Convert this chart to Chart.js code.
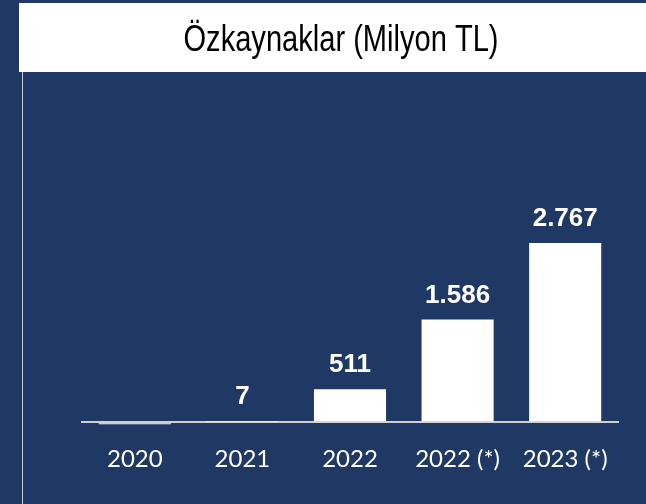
<!DOCTYPE html>
<html>
<head>
<meta charset="utf-8">
<script src="https://cdn.jsdelivr.net/npm/chart.js@4/dist/chart.umd.min.js"></script>
<style>
  html, body { margin: 0; padding: 0; background: #203864; }
  #wrap { width: 646px; height: 504px; position: relative; }
</style>
</head>
<body>
<div id="wrap"><canvas id="c" width="646" height="504"></canvas></div>
<script>
const chartTitle = 'Özkaynaklar (Milyon TL)';
const categories = ['2020', '2021', '2022', '2022 (*)', '2023 (*)'];
const values = [-30, 7, 511, 1586, 2767];

function fmtTR(v) {
  return String(Math.round(v)).replace(/\B(?=(\d{3})+(?!\d))/g, '.');
}

const decor = {
  id: 'decor',
  beforeDraw(chart) {
    const ctx = chart.ctx;
    ctx.save();
    ctx.fillStyle = '#203864';
    ctx.fillRect(0, 0, chart.width, chart.height);
    ctx.fillStyle = '#ffffff';
    ctx.fillRect(19, 3, chart.width - 19, 69);
    ctx.strokeStyle = '#c9cfdb';
    ctx.lineWidth = 1;
    ctx.beginPath();
    ctx.moveTo(22.5, 72);
    ctx.lineTo(22.5, chart.height);
    ctx.stroke();
    ctx.fillStyle = '#000000';
    ctx.font = '36px "Liberation Sans", Arial, sans-serif';
    ctx.textAlign = 'center';
    ctx.textBaseline = 'alphabetic';
    const w = ctx.measureText(chartTitle).width;
    const sx = 315 / w;
    ctx.translate(341, 51);
    ctx.scale(sx, 1);
    ctx.fillText(chartTitle, 0, 0);
    ctx.restore();
  }
};

const valueLabels = {
  id: 'valueLabels',
  afterDatasetsDraw(chart) {
    const ctx = chart.ctx;
    const meta = chart.getDatasetMeta(0);
    ctx.save();
    ctx.fillStyle = '#ffffff';
    ctx.font = 'bold 26px "Liberation Sans", Arial, sans-serif';
    ctx.textAlign = 'center';
    ctx.textBaseline = 'alphabetic';
    meta.data.forEach((bar, i) => {
      const v = values[i];
      if (v < 0) return;
      const top = Math.min(bar.y, bar.base);
      ctx.fillText(fmtTR(v), bar.x, top - 17);
    });
    ctx.restore();
  }
};

new Chart(document.getElementById('c'), {
  type: 'bar',
  data: {
    labels: categories,
    datasets: [{
      data: values,
      backgroundColor: '#ffffff',
      borderWidth: 0,
      barPercentage: 0.67,
      categoryPercentage: 1.0
    }]
  },
  options: {
    responsive: false,
    animation: false,
    devicePixelRatio: 1,
    layout: { padding: { left: 81, right: 27, top: 202, bottom: 10 } },
    plugins: {
      legend: { display: false },
      title: { display: false },
      tooltip: { enabled: false }
    },
    scales: {
      x: {
        grid: { display: false, drawTicks: false },
        border: { display: false },
        ticks: {
          color: '#ffffff',
          padding: 20,
          font: { family: 'Lato, "Open Sans", sans-serif', size: 24 }
        }
      },
      y: {
        min: -45,
        max: 3400,
        afterFit(s) { s.width = 0; },
        afterBuildTicks(s) { s.ticks = [{ value: 0 }]; },
        ticks: { display: false },
        border: { display: false },
        grid: {
          drawTicks: false,
          color: '#d0d0d0',
          lineWidth: 2
        }
      }
    }
  },
  plugins: [decor, valueLabels]
});
</script>
</body>
</html>
